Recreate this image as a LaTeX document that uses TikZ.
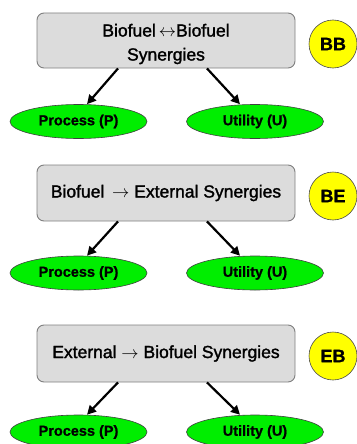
\documentclass[tikz,border=0pt]{standalone}
\usepackage{fontspec}
\setmainfont{Liberation Sans}
\newfontfamily\boxfont{Liberation Sans}[FakeBold=1.6]
\newfontfamily\leaffont{Liberation Sans Bold}[FakeBold=0.9]
\usetikzlibrary{arrows.meta,shapes.geometric}
\definecolor{boxfill}{HTML}{DCDCDC}
\definecolor{boxline}{HTML}{7F7F7F}
\definecolor{leaf}{HTML}{00EE00}
\definecolor{badge}{HTML}{FFFF00}
\newcommand{\lrarr}{\,$\leftrightarrow$}
\newcommand{\rarr}{$\rightarrow$}
\tikzset{
  boxtext/.style={align=center, inner sep=0pt, font=\fontsize{17.5}{24}\selectfont\boxfont},
  synbox/.style={boxtext, draw=boxline, line width=0.9pt, fill=boxfill, rounded corners=7pt,
    minimum width=258pt, minimum height=56pt},
  leafnode/.style={ellipse, draw=black!75, line width=0.6pt, fill=leaf,
    minimum width=137pt, minimum height=34pt, inner sep=0pt,
    font=\fontsize{14.5}{16}\selectfont\leaffont},
  tag/.style={circle, draw=black!70, line width=0.6pt, fill=badge,
    minimum size=48pt, inner sep=0pt, font=\fontsize{18}{20}\selectfont\leaffont},
  link/.style={line width=2.2pt, -{Triangle[length=9pt,width=9pt]}}
}
\begin{document}
\begin{tikzpicture}[x=1pt,y=-1pt]
\useasboundingbox (0,0) rectangle (356,444);

% Biofuel <-> Biofuel
\node[synbox, minimum height=55pt] (b1) at (166,40.5) {};
\node[boxtext] (b1t) at (166,44) {Biofuel\lrarr Biofuel\\Synergies};
\node[tag] (t1) at (333,44) {BB};
\node[leafnode] (p1) at (78.5,121.5) {Process (P)};
\node[leafnode] (u1) at (255,121.5) {Utility (U)};
\draw[link] ([xshift=-48pt]b1.south) -- ([xshift=8.5pt]p1.north);
\draw[link] ([xshift=41pt]b1.south) -- ([xshift=-15pt]u1.north);

% Biofuel -> External
\node[synbox] (b2) at (166,193) {Biofuel \,\rarr{} External Synergies};
\node[tag] (t2) at (333,196) {BE};
\node[leafnode] (p2) at (78.5,273) {Process (P)};
\node[leafnode] (u2) at (255,273) {Utility (U)};
\draw[link] ([xshift=-48pt]b2.south) -- ([xshift=8.5pt]p2.north);
\draw[link] ([xshift=41pt]b2.south) -- ([xshift=-15pt]u2.north);

% External -> Biofuel
\node[synbox, minimum height=57pt] (b3) at (166,353.5) {External \rarr{} Biofuel Synergies};
\node[tag] (t3) at (333,356) {EB};
\node[leafnode] (p3) at (78.5,432) {Process (P)};
\node[leafnode] (u3) at (255,432) {Utility (U)};
\draw[link] ([xshift=-48pt]b3.south) -- ([xshift=8.5pt]p3.north);
\draw[link] ([xshift=41pt]b3.south) -- ([xshift=-15pt]u3.north);
\end{tikzpicture}
\end{document}
